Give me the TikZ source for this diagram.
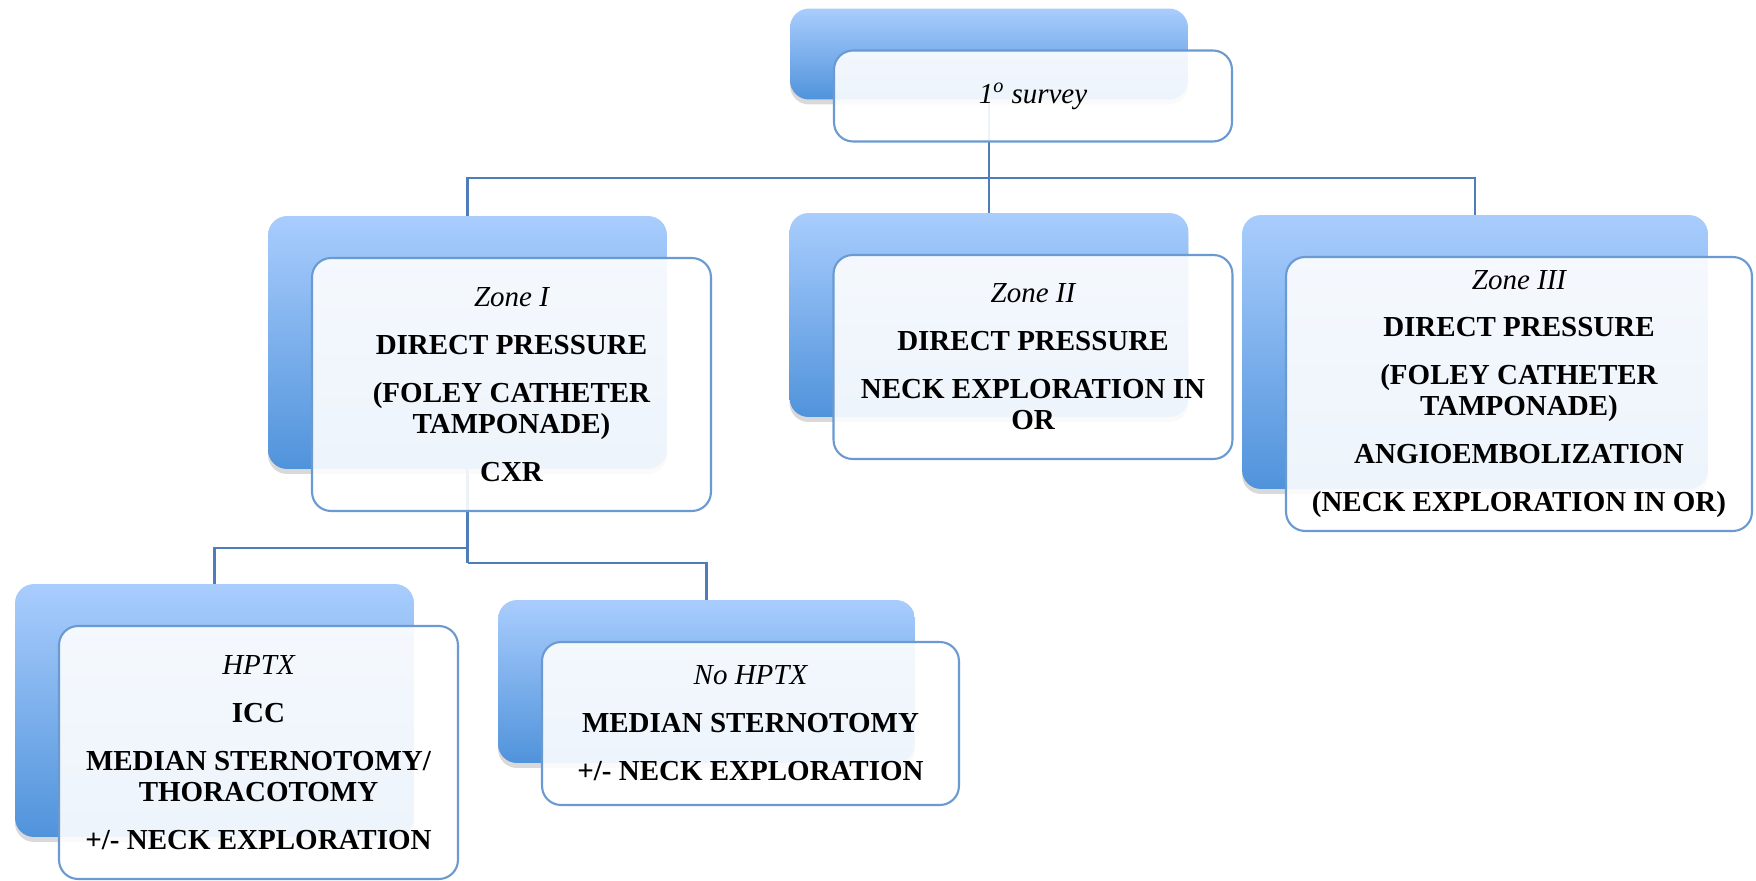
\documentclass[tikz,border=0pt]{standalone}
\usepackage{fontspec}
\setmainfont{Liberation Serif}
\usetikzlibrary{backgrounds,shadows,positioning}
\definecolor{backtop}{RGB}{169,205,253}
\definecolor{backbottom}{RGB}{80,147,219}
\definecolor{frontline}{RGB}{106,154,209}
\definecolor{linkline}{RGB}{79,125,186}
\tikzstyle{back} = [rectangle, rounded corners=0.38cm, draw=none, top color=backtop, bottom color=backbottom, drop shadow={shadow xshift=0cm, shadow yshift=-0.1cm, opacity=0.3}]
\tikzstyle{front} = [rectangle, rounded corners=0.38cm, draw=frontline, line width=1.2pt, fill=white, fill opacity=0.9, text opacity=1, align=center, font=\fontsize{16.5pt}{17.6pt}\selectfont\bfseries]
\tikzstyle{link} = [draw=linkline, line width=1.15pt]
\newcommand{\casename}[1]{{\normalfont\itshape #1}}

\begin{document}
\begin{tikzpicture}[x=0.02cm, y=-0.02cm]
\useasboundingbox (0,0) rectangle (1756,880);

% top
\node [back, minimum width=7.96cm, minimum height=1.82cm] (surveyback) at (989,54) {};
\node [front, minimum width=7.96cm, minimum height=1.82cm, xshift=0.88cm, yshift=-0.84cm] (survey) at (surveyback) {\casename{1\textsuperscript{o} survey}};

% zones
\node [back, minimum width=7.98cm, minimum height=5.06cm] (zoneoneback) at (467.5,342.5) {};
\node [front, minimum width=7.98cm, minimum height=5.06cm, xshift=0.88cm, yshift=-0.84cm] (zoneone) at (zoneoneback) {\casename{Zone I}\\[9.7pt] DIRECT PRESSURE\\[9.7pt] (FOLEY CATHETER\\ TAMPONADE)\\[9.7pt] CXR};

\node [back, minimum width=7.98cm, minimum height=4.08cm] (zonetwoback) at (989,315) {};
\node [front, minimum width=7.98cm, minimum height=4.08cm, xshift=0.88cm, yshift=-0.84cm] (zonetwo) at (zonetwoback) {\casename{Zone II}\\[9.7pt] DIRECT PRESSURE\\[9.7pt] NECK EXPLORATION IN\\ OR};

\node [back, minimum width=9.32cm, minimum height=5.48cm] (zonethreeback) at (1475,352) {};
\node [front, minimum width=9.32cm, minimum height=5.48cm, xshift=0.88cm, yshift=-0.84cm] (zonethree) at (zonethreeback) {\casename{Zone III}\\[9.7pt] DIRECT PRESSURE\\[9.7pt] (FOLEY CATHETER\\ TAMPONADE)\\[9.7pt] ANGIOEMBOLIZATION\\[9.7pt] (NECK EXPLORATION IN OR)};

% below zone I
\node [back, minimum width=7.98cm, minimum height=5.06cm] (hptxback) at (214.5,710.5) {};
\node [front, minimum width=7.98cm, minimum height=5.06cm, xshift=0.88cm, yshift=-0.84cm] (hptx) at (hptxback) {\casename{HPTX}\\[9.7pt] ICC\\[9.7pt] MEDIAN STERNOTOMY/\\ THORACOTOMY\\[9.7pt] +/- NECK EXPLORATION};

\node [back, minimum width=8.34cm, minimum height=3.26cm] (nohptxback) at (706.5,681.5) {};
\node [front, minimum width=8.34cm, minimum height=3.26cm, xshift=0.88cm, yshift=-0.84cm] (nohptx) at (nohptxback) {\casename{No HPTX}\\[9.7pt] MEDIAN STERNOTOMY\\[9.7pt] +/- NECK EXPLORATION};

\begin{scope}[on background layer]
\coordinate (topbus) at (989,178);
\coordinate (leftbus) at (467.5,548);
\coordinate (rightbus) at (467.5,563);
\draw [link] (surveyback.south) -- (topbus);
\draw [link] (topbus) -| (zoneoneback.north);
\draw [link] (topbus) -- (zonetwoback.north);
\draw [link] (topbus) -| (zonethreeback.north);
\draw [link] (zoneoneback.south) -- (rightbus);
\draw [link] (leftbus) -| (hptxback.north);
\draw [link] (rightbus) -| (nohptxback.north);
\end{scope}
\end{tikzpicture}
\end{document}
